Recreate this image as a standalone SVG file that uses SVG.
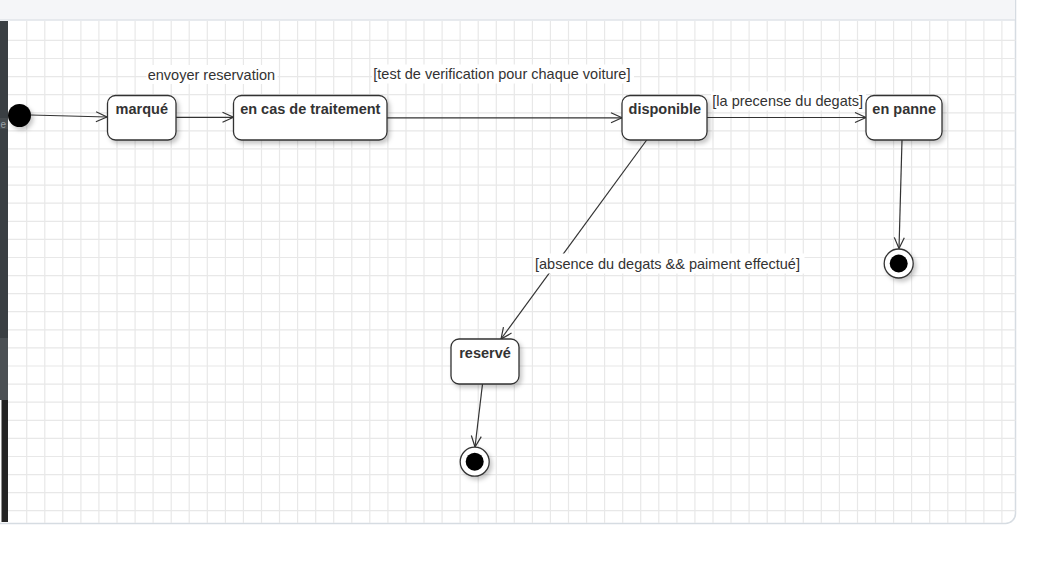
<svg xmlns="http://www.w3.org/2000/svg" width="1040" height="568" viewBox="0 0 1040 568">
<style>
.grid{stroke:#e8e8e8;stroke-width:1.2;fill:none}
.node{fill:#ffffff;stroke:#333333;stroke-width:1.3}
.ntext{font-family:"Liberation Sans",Arial,sans-serif;font-size:14.5px;font-weight:bold;fill:#333333;text-anchor:middle}
.ltext{font-family:"Liberation Sans",Arial,sans-serif;font-size:14.5px;fill:#333333}
.lbg{fill:#ffffff}
.edge{stroke:#333333;stroke-width:1.2;fill:none}
</style>
<defs>
<filter id="sh" x="-30%" y="-30%" width="170%" height="170%">
<feDropShadow dx="2.5" dy="3" stdDeviation="2" flood-color="#000000" flood-opacity="0.22"/>
</filter>
<marker id="arr" markerUnits="userSpaceOnUse" markerWidth="14" markerHeight="14" refX="11" refY="5" orient="auto" overflow="visible">
<path d="M0,0 L11,5 L0,10" fill="none" stroke="#333333" stroke-width="1.2"/>
</marker>
<clipPath id="panelclip"><rect x="8" y="21" width="1007.5" height="502" rx="10"/></clipPath>
</defs>
<rect x="0" y="0" width="1040" height="568" fill="#ffffff"/>
<g id="panel">
<rect x="-20" y="-20" width="1035.5" height="543.5" rx="10" fill="#ffffff" stroke="#d6dce2" stroke-width="1.5"/>
<rect x="0" y="0" width="1015" height="19.5" fill="#f5f6f8"/>
<line x1="0" y1="20" x2="1015" y2="20" stroke="#dfe3e8" stroke-width="1.5"/>
<g class="grid" clip-path="url(#panelclip)">
<path d="M26.7,21V523M44.8,21V523M62.8,21V523M80.9,21V523M98.9,21V523M117,21V523M135.1,21V523M153.1,21V523M171.2,21V523M189.2,21V523M207.3,21V523M225.4,21V523M243.4,21V523M261.5,21V523M279.5,21V523M297.6,21V523M315.7,21V523M333.7,21V523M351.8,21V523M369.8,21V523M387.9,21V523M406,21V523M424,21V523M442.1,21V523M460.1,21V523M478.2,21V523M496.3,21V523M514.3,21V523M532.4,21V523M550.4,21V523M568.5,21V523M586.6,21V523M604.6,21V523M622.7,21V523M640.7,21V523M658.8,21V523M676.9,21V523M694.9,21V523M713,21V523M731,21V523M749.1,21V523M767.2,21V523M785.2,21V523M803.3,21V523M821.3,21V523M839.4,21V523M857.5,21V523M875.5,21V523M893.6,21V523M911.6,21V523M929.7,21V523M947.8,21V523M965.8,21V523M983.9,21V523M1001.9,21V523"/>
<path d="M8,40.4H1016M8,58.5H1016M8,76.6H1016M8,94.7H1016M8,112.8H1016M8,130.8H1016M8,148.9H1016M8,167H1016M8,185.1H1016M8,203.2H1016M8,221.3H1016M8,239.4H1016M8,257.5H1016M8,275.6H1016M8,293.7H1016M8,311.7H1016M8,329.8H1016M8,347.9H1016M8,366H1016M8,384.1H1016M8,402.2H1016M8,420.3H1016M8,438.4H1016M8,456.5H1016M8,474.6H1016M8,492.6H1016M8,510.7H1016"/>
</g>
<rect x="0" y="21" width="8" height="317" fill="#3a3f43"/>
<rect x="0" y="118" width="8" height="11" fill="#464b4f"/>
<text x="0.5" y="127.5" font-family="Liberation Sans, Arial, sans-serif" font-size="10" fill="#9aa0a6">e</text>
<rect x="0" y="338" width="8" height="62" fill="#4b5054"/>
<rect x="1.5" y="400" width="6.5" height="122" fill="#242424"/>
</g>
<g id="connectors">
<path class="edge" d="M31,115 L107,117" marker-end="url(#arr)"/>
<path class="edge" d="M176,117.3 L233.5,117.3" marker-end="url(#arr)"/>
<path class="edge" d="M387,117.8 L622,117.8" marker-end="url(#arr)"/>
<path class="edge" d="M707,117.5 L866,117.5" marker-end="url(#arr)"/>
<path class="edge" d="M646.7,140 L501,339" marker-end="url(#arr)"/>
<path class="edge" d="M902,140 L899,248.5" marker-end="url(#arr)"/>
<path class="edge" d="M482.5,384 L475,447" marker-end="url(#arr)"/>
<rect class="lbg" x="146.5" y="65" width="131" height="19"/>
<text class="ltext" x="147.7" y="79.5">envoyer reservation</text>
<rect class="lbg" x="372" y="64.5" width="262" height="19"/>
<text class="ltext" x="373.3" y="79">[test de verification pour chaque voiture]</text>
<rect class="lbg" x="711" y="91.5" width="155" height="19"/>
<text class="ltext" x="712.3" y="106">[la precense du degats]</text>
<rect class="lbg" x="533.5" y="253.5" width="271" height="20"/>
<text class="ltext" x="535" y="269">[absence du degats &amp;&amp; paiment effectué]</text>
</g>
<g id="initial">
<circle cx="19.5" cy="115.5" r="11.5" fill="#000000" filter="url(#sh)"/>
</g>
<g id="marque">
<rect class="node" x="107.5" y="95.5" width="68.5" height="44.5" rx="8" filter="url(#sh)"/>
<text class="ntext" x="141.8" y="114">marqué</text>
</g>
<g id="traitement">
<rect class="node" x="233.5" y="95.5" width="153.5" height="44.5" rx="8" filter="url(#sh)"/>
<text class="ntext" x="310.3" y="114">en cas de traitement</text>
</g>
<g id="disponible">
<rect class="node" x="622" y="95.5" width="85" height="44.5" rx="8" filter="url(#sh)"/>
<text class="ntext" x="664.8" y="114">disponible</text>
</g>
<g id="enpanne">
<rect class="node" x="866" y="95.5" width="76" height="44.5" rx="8" filter="url(#sh)"/>
<text class="ntext" x="904.2" y="114">en panne</text>
</g>
<g id="reserve">
<rect class="node" x="451" y="339" width="68" height="45" rx="8" filter="url(#sh)"/>
<text class="ntext" x="485" y="358">reservé</text>
</g>
<g id="final1">
<circle cx="898.7" cy="263.5" r="14.5" fill="#ffffff" stroke="#333333" stroke-width="1.3" filter="url(#sh)"/>
<circle cx="898.7" cy="263.5" r="9" fill="#000000"/>
</g>
<g id="final2">
<circle cx="474.7" cy="461.7" r="14.5" fill="#ffffff" stroke="#333333" stroke-width="1.3" filter="url(#sh)"/>
<circle cx="474.7" cy="461.7" r="9" fill="#000000"/>
</g>
</svg>
